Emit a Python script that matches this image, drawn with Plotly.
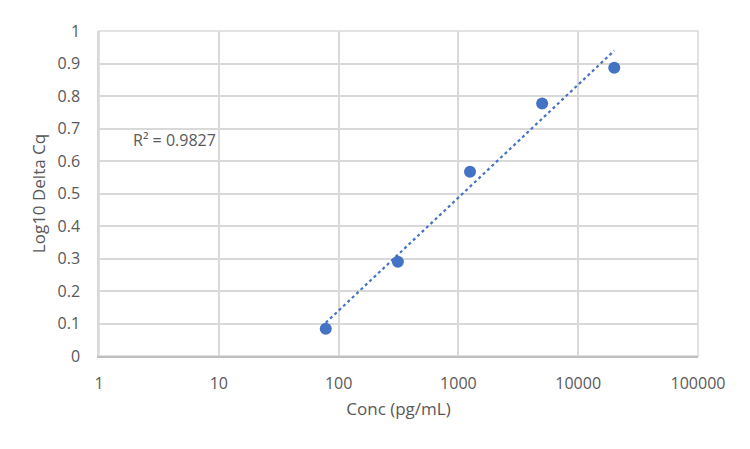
import numpy as np
import plotly.graph_objects as go

# standard curve data
conc = [78.125, 312.5, 1250, 5000, 20000]
log_delta_cq = [0.084, 0.29, 0.567, 0.777, 0.887]

x_ticks = [1, 10, 100, 1000, 10000, 100000]
x_tick_labels = ["1", "10", "100", "1000", "10000", "100000"]
y_ticks = [0, 0.1, 0.2, 0.3, 0.4, 0.5, 0.6, 0.7, 0.8, 0.9, 1]
y_tick_labels = ["0", "0.1", "0.2", "0.3", "0.4", "0.5", "0.6", "0.7", "0.8", "0.9", "1"]
r2_text = "R² = 0.9827"

blue = "#4472C4"
grey_text = "#595959"

# logarithmic trendline like Excel: y = a*log10(x) + b
lx = np.log10(conc)
a, b = np.polyfit(lx, log_delta_cq, 1)
trend_x = np.logspace(lx[0], lx[-1], 50)
trend_y = a * np.log10(trend_x) + b

fig = go.Figure()
fig.add_trace(go.Scatter(
    x=trend_x, y=trend_y, mode="lines",
    line=dict(color=blue, width=2.2, dash="dot"),
    hoverinfo="skip", showlegend=False
))
fig.add_trace(go.Scatter(
    x=conc, y=log_delta_cq, mode="markers",
    marker=dict(color=blue, size=12),
    showlegend=False
))

fig.add_annotation(
    x=0.27, y=0.665, xref="x", yref="y", text=r2_text, showarrow=False,
    xanchor="left", font=dict(size=16, color=grey_text)
)

fig.update_xaxes(
    type="log", range=[0, 5], tickvals=x_ticks, ticktext=x_tick_labels,
    showgrid=True, gridcolor="#d9d9d9", gridwidth=1.5,
    showline=True, linecolor="#bfbfbf", linewidth=1.5, mirror=False,
    zeroline=False, ticks="", ticklabelstandoff=12,
    tickfont=dict(size=16, color=grey_text),
    title=dict(text="Conc (pg/mL)", font=dict(size=17, color=grey_text), standoff=10)
)
fig.update_yaxes(
    range=[0, 1], tickvals=y_ticks, ticktext=y_tick_labels,
    showgrid=True, gridcolor="#d9d9d9", gridwidth=1.5,
    showline=True, linecolor="#d9d9d9", linewidth=1.5,
    zeroline=False, ticks="", ticklabelstandoff=14,
    tickfont=dict(size=16, color=grey_text),
    title=dict(text="Log10 Delta Cq", font=dict(size=17, color=grey_text), standoff=8)
)

fig.add_shape(type="rect", xref="paper", yref="paper", x0=0, y0=0, x1=1, y1=1,
              line=dict(color="#d9d9d9", width=1.5), layer="below")

# page body adds an 8px offset, so margins are shifted to keep the plot area in place
fig.update_layout(
    width=750, height=449,
    margin=dict(l=91, r=60, t=14, b=101),
    plot_bgcolor="white", paper_bgcolor="white",
    font=dict(family="'Open Sans', Lato, sans-serif", color=grey_text),
)

fig.write_html("out.html")
